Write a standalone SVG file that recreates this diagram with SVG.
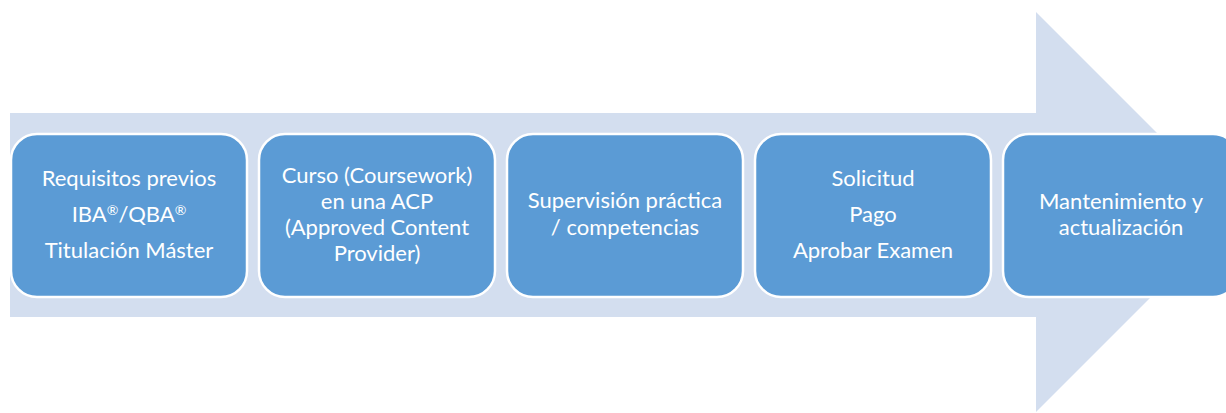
<svg xmlns="http://www.w3.org/2000/svg" width="1226" height="413" viewBox="0 0 1226 413">
  <style>
    .box { fill: #5B9BD5; stroke: #FFFFFF; stroke-width: 2.5; }
    .lbl { font-family: Lato, "Open Sans", "Liberation Sans", sans-serif; font-size: 22px; fill: #FFFFFF; text-anchor: middle; }
    .sup { font-size: 14px; }
    .arrow { fill: #D3DEEF; }
  </style>
  <rect width="1226" height="413" fill="#FFFFFF"/>
  <g id="connectors">
    <path class="arrow" d="M10,113 L1036,113 L1036,12 L1236,212 L1036,412 L1036,317 L10,317 Z"/>
  </g>
  <g id="node1">
    <rect class="box" x="11" y="134" width="236" height="163" rx="26" ry="26"/>
    <text class="lbl" x="129" y="186">Requisitos previos</text>
    <text class="lbl" x="129" y="222">IBA<tspan class="sup" dy="-7">®</tspan><tspan dy="7">/QBA</tspan><tspan class="sup" dy="-7">®</tspan></text>
    <text class="lbl" x="129" y="258">Titulación Máster</text>
  </g>
  <g id="node2">
    <rect class="box" x="259" y="134" width="236" height="163" rx="26" ry="26"/>
    <text class="lbl" x="377" y="183">Curso (Coursework)</text>
    <text class="lbl" x="377" y="209">en una ACP</text>
    <text class="lbl" x="377" y="235">(Approved Content</text>
    <text class="lbl" x="377" y="261">Provider)</text>
  </g>
  <g id="node3">
    <rect class="box" x="507" y="134" width="236" height="163" rx="26" ry="26"/>
    <text class="lbl" x="625" y="208">Supervisión práctica</text>
    <text class="lbl" x="625" y="235">/ competencias</text>
  </g>
  <g id="node4">
    <rect class="box" x="755" y="134" width="236" height="163" rx="26" ry="26"/>
    <text class="lbl" x="873" y="186">Solicitud</text>
    <text class="lbl" x="873" y="222">Pago</text>
    <text class="lbl" x="873" y="258">Aprobar Examen</text>
  </g>
  <g id="node5">
    <rect class="box" x="1003" y="134" width="236" height="163" rx="26" ry="26"/>
    <text class="lbl" x="1121" y="209">Mantenimiento y</text>
    <text class="lbl" x="1121" y="235">actualización</text>
  </g>
</svg>
